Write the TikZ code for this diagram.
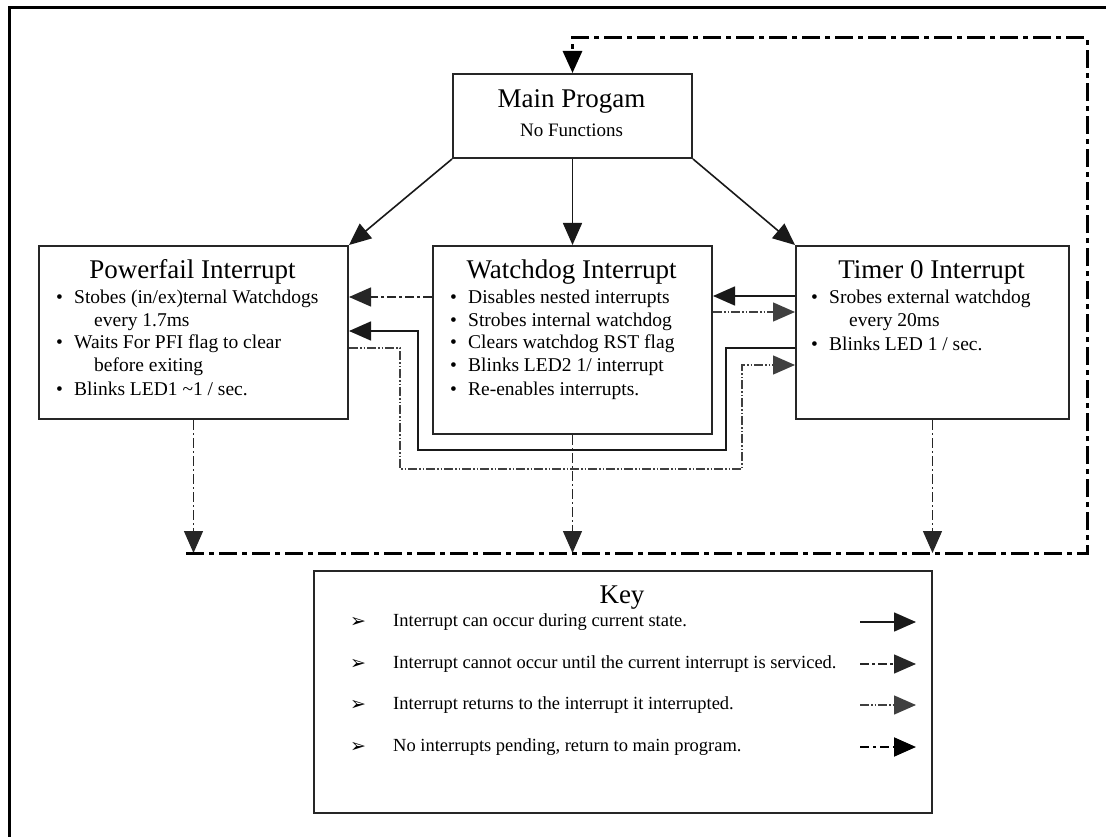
\documentclass[tikz,border=0pt]{standalone}
\usepackage{fontspec}
\setmainfont{Liberation Serif}
\newfontfamily\symfont{DejaVu Sans}
\usetikzlibrary{positioning,arrows.meta}

\newcommand{\bitem}{\makebox[18pt][l]{\textbullet}}
\newcommand{\bcont}{\hspace*{38pt}}

\begin{document}
\begin{tikzpicture}[
    x=1pt, y=-1pt,
    box/.style={rectangle, draw=black!85, line width=2pt, inner sep=0pt},
    title/.style={font=\fontsize{27}{30}\selectfont, inner sep=0pt},
    body/.style={font=\fontsize{19.5}{22.5}\selectfont, align=left, inner sep=0pt},
    keytext/.style={font=\fontsize{18.5}{21}\selectfont, anchor=west, inner sep=0pt},
    tip/.style={-{Triangle[length=22pt,width=19pt]}},
    can/.style={tip, draw=black!90, line width=1.6pt},
    cannot/.style={tip, draw=black!85, line width=1.4pt, dash pattern=on 9pt off 3pt on 3pt off 3pt},
    returns/.style={tip, draw=black!75, line width=1.4pt, dash pattern=on 9pt off 2pt on 1.5pt off 2pt on 1.5pt off 2pt},
    downline/.style={tip, draw=black!85, line width=1.3pt, dash pattern=on 10pt off 3pt on 2pt off 3pt},
    tomain/.style={tip, draw=black, line width=3pt, dash pattern=on 18pt off 5pt on 5pt off 5pt}
    ]
        \useasboundingbox (0,0) rectangle (1106,837);
        \draw[line width=3pt] (9,1000) -- (9,8) -- (1200,8);

        %Boxes
        \node[box, minimum width=239pt, minimum height=84pt, anchor=north west]
            (mp)    at (452,73)     {};
        \node[box, minimum width=309pt, minimum height=173pt, anchor=north west]
            (pf)    at (38,245)     {};
        \node[box, minimum width=279pt, minimum height=188pt, anchor=north west]
            (wd)    at (432,245)    {};
        \node[box, minimum width=273pt, minimum height=173pt, anchor=north west]
            (tm)    at (795,245)    {};
        \node[box, minimum width=618pt, minimum height=242pt, anchor=north west]
            (key)   at (313,570)    {};

        %Texts
        \node[title]    (mptitle)   at (571.5,101)  {Main Progam};
        \node[font=\fontsize{19}{22}\selectfont, inner sep=0pt]
            (mpsub)     at (571.5,130)  {No Functions};

        \node[title]    (pftitle)   at (192.5,272)  {Powerfail Interrupt};
        \node[body, anchor=north west]  (pfbody)    at (56,290)
            {\bitem Stobes (in/ex)ternal Watchdogs\\
             \bcont every 1.7ms\\
             \bitem Waits For PFI flag to clear\\
             \bcont before exiting\\[2pt]
             \bitem Blinks LED1 \textasciitilde1 / sec.};

        \node[title]    (wdtitle)   at (571.5,272)  {Watchdog Interrupt};
        \node[body, anchor=north west]  (wdbody)    at (450,290)
            {\bitem Disables nested interrupts\\
             \bitem Strobes internal watchdog\\
             \bitem Clears watchdog RST flag\\
             \bitem Blinks LED2 1/ interrupt\\[2pt]
             \bitem Re-enables interrupts.};

        \node[title]    (tmtitle)   at (931.5,272)  {Timer 0 Interrupt};
        \node[body, anchor=north west]  (tmbody)    at (811,290)
            {\bitem Srobes external watchdog\\
             \bcont every 20ms\\[2pt]
             \bitem Blinks LED 1 / sec.};

        %Key
        \node[title]    (keytitle)  at (622,598)    {Key};
        \node[keytext]  (kb1)   at (350,622)    {\symfont\fontsize{19}{19}\selectfont ➢};
        \node[keytext]  (kb2)   at (350,664)    {\symfont\fontsize{19}{19}\selectfont ➢};
        \node[keytext]  (kb3)   at (350,705)    {\symfont\fontsize{19}{19}\selectfont ➢};
        \node[keytext]  (kb4)   at (350,747)    {\symfont\fontsize{19}{19}\selectfont ➢};
        \node[keytext]  (kt1)   at (393,622)    {Interrupt can occur during current state.};
        \node[keytext]  (kt2)   at (393,664)    {Interrupt cannot occur until the current interrupt is serviced.};
        \node[keytext]  (kt3)   at (393,705)    {Interrupt returns to the interrupt it interrupted.};
        \node[keytext]  (kt4)   at (393,747)    {No interrupts pending, return to main program.};
        \coordinate (ka1) at (860,622);  \coordinate (kz1) at (916,622);
        \coordinate (ka2) at (860,664);  \coordinate (kz2) at (916,664);
        \coordinate (ka3) at (860,705);  \coordinate (kz3) at (916,705);
        \coordinate (ka4) at (860,747);  \coordinate (kz4) at (916,747);
        \draw[can]      (ka1) -- (kz1);
        \draw[cannot]   (ka2) -- (kz2);
        \draw[returns]  (ka3) -- (kz3);
        \draw[tomain, line width=2pt, dash pattern=on 9pt off 4pt on 3pt off 4pt]   (ka4) -- (kz4);

        %Lines from main program
        \draw[can] (mp.south west) -- (pf.north east);
        \draw[can] (mp.south) -- (wd.north);
        \draw[can] (mp.south east) -- (tm.north west);

        %Lines between interrupts
        \draw[cannot]   (wd.west |- 0,297) -- (pf.east |- 0,297);
        \draw[can]      (tm.west |- 0,296) -- (wd.east |- 0,296);
        \draw[returns]  (wd.east |- 0,312) -- (tm.west |- 0,312);
        \draw[can]      (tm.west |- 0,348) -| (726,450) -| (418,331) -- (pf.east |- 0,331);
        \draw[returns]  (pf.east |- 0,348) -| (400,469) -| (742,365) -- (tm.west |- 0,365);

        %Return to main program
        \coordinate (pfend) at (pf.south |- 0,553);
        \coordinate (wdend) at (wd.south |- 0,553);
        \coordinate (tmend) at (tm.south |- 0,553);
        \coordinate (loopstart) at (186,553);
        \coordinate (loopright) at (1087,553);
        \draw[downline] (pf.south) -- (pfend);
        \draw[downline] (wd.south) -- (wdend);
        \draw[downline] (tm.south) -- (tmend);
        \draw[tomain]   (loopstart) -- (loopright) |- (mp.north |- 0,38) -- (mp.north);
    \end{tikzpicture}
\end{document}
